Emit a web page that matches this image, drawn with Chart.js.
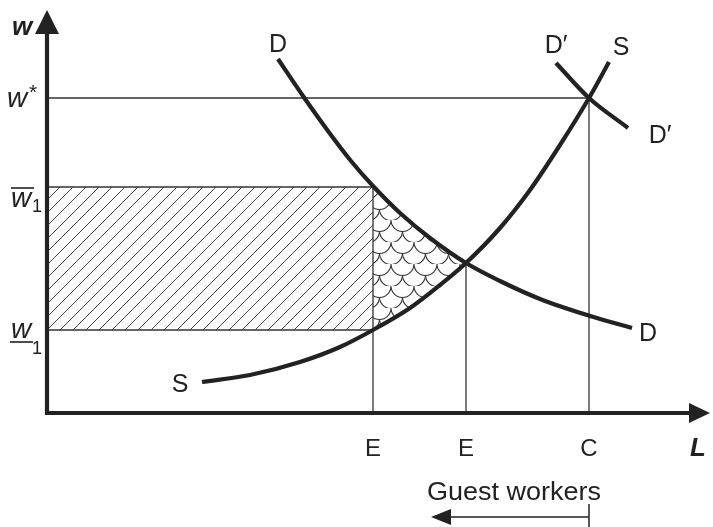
<!DOCTYPE html>
<html><head><meta charset="utf-8">
<script src="https://cdn.jsdelivr.net/npm/chart.js@4.4.0/dist/chart.umd.min.js"></script>
<style>html,body{margin:0;padding:0;background:#fff}</style>
</head><body>
<canvas id="c" width="713" height="527"></canvas>
<script>
// values (L across, w up, arbitrary units)
const demandL = [231,256,281,304,326,353,383,419,453,493,543,585];
const demandW = [354,317,282,252,227,200,175,150,132,114,97,85];
const supplyL = [155,203,253,293,326,363,393,419,453,483,513,542,562];
const supplyW = [31,38,51,66,83,105,128,150,185,223,268,315,351];
const demand2L = [509,542,581];
const demand2W = [350,315,285];

const wStar = 315, wHigh = 226, wLow = 83;
const E1 = 326, E2 = 419, C = 542;
const xTickValues = [E1, E2, C];
const xTickLabels = ['E', 'E', 'C'];

const pts = (xs, ys) => xs.map((x, i) => ({x, y: ys[i]}));
const between = (xs, ys, a, b) => pts(xs, ys).filter(p => p.x >= a && p.x <= b);

const INK = '#222';
const THIN = '#333';
const FONT = '"Liberation Sans", Arial, sans-serif';

function hatchPattern(){
  const c = document.createElement('canvas');
  c.width = 13; c.height = 13;
  const g = c.getContext('2d');
  g.strokeStyle = '#444'; g.lineWidth = 1;
  g.beginPath();
  g.moveTo(0,13); g.lineTo(13,0);
  g.moveTo(-6.5,6.5); g.lineTo(6.5,-6.5);
  g.moveTo(6.5,19.5); g.lineTo(19.5,6.5);
  g.stroke();
  return g.createPattern(c, 'repeat');
}
function scalePattern(){
  const c = document.createElement('canvas');
  c.width = 23; c.height = 22;
  const g = c.getContext('2d');
  g.strokeStyle = '#333'; g.lineWidth = 1.1;
  const arc = (cx, cy) => { g.beginPath(); g.arc(cx, cy, 11.5, 0, Math.PI); g.stroke(); };
  arc(11.5, 0); arc(11.5, 22); arc(0, 11); arc(23, 11);
  return g.createPattern(c, 'repeat');
}

const thin = (data) => ({data, borderColor: THIN, borderWidth: 1.3, pointRadius: 0, tension: 0, fill: false, order: 5});
const curve = (data) => ({data, borderColor: INK, borderWidth: 4.2, pointRadius: 0, cubicInterpolationMode: 'monotone', fill: false, order: 0});

const annot = {
  id: 'annot',
  afterDraw(chart){
    const ctx = chart.ctx, xs = chart.scales.x, ys = chart.scales.y;
    const X = v => xs.getPixelForValue(v), Y = v => ys.getPixelForValue(v);
    const x0 = X(0), y0 = Y(0);
    ctx.save();
    ctx.fillStyle = INK; ctx.strokeStyle = INK;
    // axes
    ctx.lineWidth = 4.2; ctx.lineCap = 'butt';
    ctx.beginPath();
    ctx.moveTo(x0, y0 + 2); ctx.lineTo(x0, 30);
    ctx.moveTo(x0 - 2, y0); ctx.lineTo(692, y0);
    ctx.stroke();
    ctx.beginPath(); ctx.moveTo(x0, 10); ctx.lineTo(x0 - 12, 34); ctx.lineTo(x0 + 12, 34); ctx.closePath(); ctx.fill();
    ctx.beginPath(); ctx.moveTo(710, y0); ctx.lineTo(689, y0 - 10); ctx.lineTo(689, y0 + 10); ctx.closePath(); ctx.fill();

    ctx.textBaseline = 'alphabetic';
    ctx.textAlign = 'center';
    // axis titles
    ctx.font = 'italic bold 26px ' + FONT;
    ctx.fillText('w', 22, 35);
    ctx.fillText('L', 698, 456);

    // y labels
    ctx.textAlign = 'left';
    ctx.font = 'italic 28px ' + FONT;
    ctx.fillText('w', 7, Y(wStar) + 9);
    ctx.font = '21px ' + FONT;
    ctx.fillText('*', 29, Y(wStar) + 1);

    ctx.font = 'italic 28px ' + FONT;
    ctx.fillText('w', 11, Y(wHigh) + 20);
    ctx.font = '18px ' + FONT;
    ctx.fillText('1', 32, Y(wHigh) + 25);
    ctx.lineWidth = 1.6;
    ctx.beginPath(); ctx.moveTo(11, Y(wHigh) + 1); ctx.lineTo(34, Y(wHigh) + 1); ctx.stroke();

    ctx.font = 'italic 28px ' + FONT;
    ctx.fillText('w', 11, Y(wLow) + 8);
    ctx.font = '18px ' + FONT;
    ctx.fillText('1', 32, Y(wLow) + 24);
    ctx.beginPath(); ctx.moveTo(10, Y(wLow) + 12); ctx.lineTo(33, Y(wLow) + 12); ctx.stroke();

    // x tick labels
    ctx.font = '24px ' + FONT;
    ctx.textAlign = 'center';
    xTickValues.forEach((v, i) => ctx.fillText(xTickLabels[i], X(v), 456));

    // curve labels
    ctx.font = '25px ' + FONT;
    ctx.fillText('D', 278, 52);
    ctx.fillText('D\u2032', 556, 53);
    ctx.fillText('S', 621, 55);
    ctx.fillText('D\u2032', 660, 143);
    ctx.fillText('D', 648, 341);
    ctx.fillText('S', 180, 392);

    // guest workers note
    ctx.save();
    ctx.translate(514, 500); ctx.scale(1.08, 1);
    ctx.font = '25px ' + FONT;
    ctx.fillText('Guest workers', 0, 0);
    ctx.restore();
    ctx.lineWidth = 1.5;
    ctx.beginPath(); ctx.moveTo(X(C), 517); ctx.lineTo(445, 517);
    ctx.moveTo(X(C), 504); ctx.lineTo(X(C), 527); ctx.stroke();
    ctx.beginPath(); ctx.moveTo(431, 517); ctx.lineTo(451, 509); ctx.lineTo(451, 525); ctx.closePath(); ctx.fill();
    ctx.restore();
  }
};

new Chart(document.getElementById('c'), {
  type: 'line',
  data: {
    datasets: [
      // hatched rectangle
      {data: [{x:0,y:wHigh},{x:E1,y:wHigh}], borderColor: THIN, borderWidth: 1.3, pointRadius: 0, fill: '+1', backgroundColor: hatchPattern(), order: 6},
      {data: [{x:0,y:wLow},{x:E1,y:wLow}], borderColor: THIN, borderWidth: 1.3, pointRadius: 0, fill: false, order: 6},
      // scale-patterned wedge between D and S
      {data: between(demandL, demandW, E1, E2), borderWidth: 0, pointRadius: 0, cubicInterpolationMode: 'monotone', fill: '+1', backgroundColor: scalePattern(), order: 7},
      {data: between(supplyL, supplyW, E1, E2), borderWidth: 0, pointRadius: 0, cubicInterpolationMode: 'monotone', fill: false, order: 7},
      // guide lines
      thin([{x:E1,y:wHigh},{x:E1,y:0}]),
      thin([{x:E2,y:150},{x:E2,y:0}]),
      thin([{x:0,y:wStar},{x:C,y:wStar},{x:C,y:0}]),
      // curves
      curve(pts(demandL, demandW)),
      curve(pts(supplyL, supplyW)),
      curve(pts(demand2L, demand2W))
    ]
  },
  options: {
    responsive: false,
    animation: false,
    devicePixelRatio: 1,
    layout: {padding: {left: 47, right: 13, top: 12, bottom: 114}},
    scales: {
      x: {type: 'linear', min: 0, max: 653, display: false},
      y: {type: 'linear', min: 0, max: 401, display: false}
    },
    plugins: {legend: {display: false}, tooltip: {enabled: false}}
  },
  plugins: [annot]
});
</script>
</body></html>
